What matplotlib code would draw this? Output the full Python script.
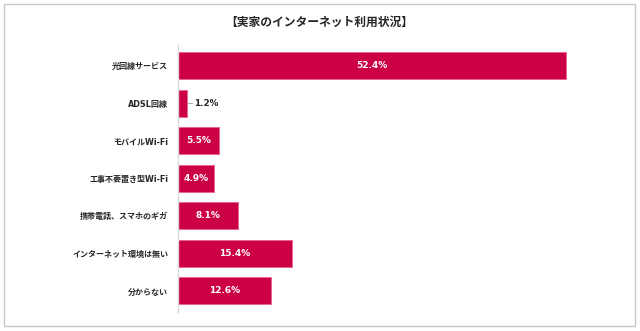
import matplotlib
matplotlib.use('Agg')
from matplotlib import pyplot as plt
from matplotlib.patches import Rectangle

# Latin/digits in DejaVu (Verdana-like), Japanese falls through to Noto CJK
plt.rcParams['font.family'] = ['DejaVu Sans', 'Noto Sans CJK JP']

title = '【実家のインターネット利用状況】'
categories = ['光回線サービス', 'ADSL回線', 'モバイルWi-Fi', '工事不要置き型Wi-Fi',
              '携帯電話、スマホのギガ', 'インターネット環境は無い', '分からない']
values = [52.4, 1.2, 5.5, 4.9, 8.1, 15.4, 12.6]

bar_color = '#cc0044'
text_color = '#262626'

fig = plt.figure(figsize=[6.4, 3.31], dpi=100)
ax = fig.add_axes([0.278, 0.0574, 0.695, 0.807])

y = list(range(len(categories)))
ax.barh(y, values, height=0.72, color=bar_color, edgecolor='#e8628a', linewidth=0.6)

ax.set_xlim(0, 60)
ax.set_ylim(6.56, -0.55)
ax.set_yticks(y)
ax.set_yticklabels(categories, fontsize=5.8, fontweight='bold', color=text_color)
ax.tick_params(axis='y', length=0, pad=7)
ax.set_xticks([])

for side in ['top', 'right', 'bottom']:
    ax.spines[side].set_visible(False)
ax.spines['left'].set_color('#d9d9d9')
ax.spines['left'].set_linewidth(1)

# value labels: inside the bar, or beside it with a leader when too short
for i, v in enumerate(values):
    label = f'{v:.1f}%'
    if v < 3:
        ax.plot([v + 0.15, v + 0.75], [i, i], color='#999999', lw=0.6)
        ax.text(v + 0.95, i, label, ha='left', va='center', fontsize=6.3,
                fontweight='bold', color=text_color)
    else:
        ax.text(v / 2, i, label, ha='center', va='center', fontsize=6.5,
                fontweight='bold', color='white')

fig.text(0.499, 0.932, title, ha='center', va='center', fontsize=8.5,
         fontweight='bold', color=text_color)

# frame around the whole chart
fig.patches.append(Rectangle((3.5 / 640, 5.5 / 331), 631 / 640, 321.5 / 331,
                             transform=fig.transFigure, fill=False,
                             edgecolor='#c8c8c8', linewidth=1))

fig.savefig('out.png', dpi=100)
